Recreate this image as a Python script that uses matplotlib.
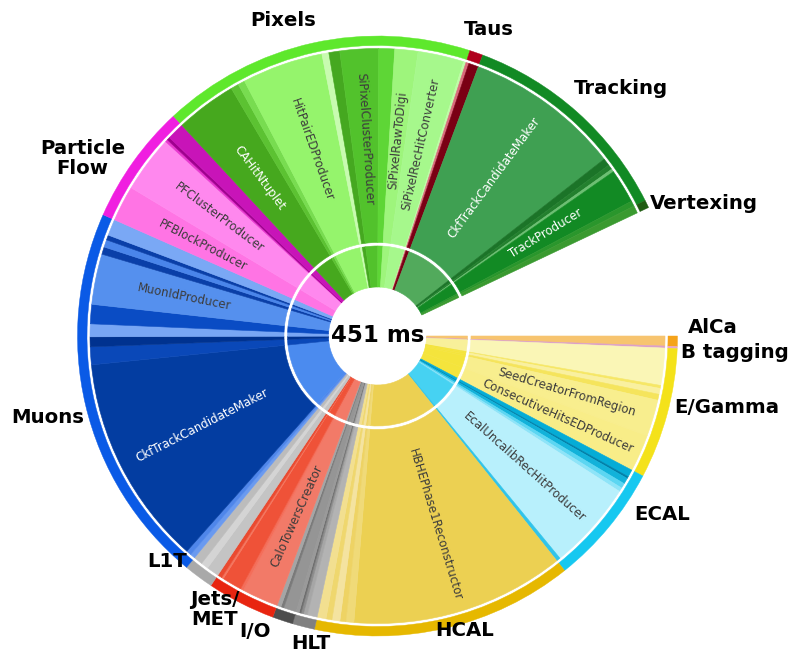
import numpy as np
import matplotlib
matplotlib.use("Agg")
import matplotlib.pyplot as plt

# ---------------- data ----------------
TOTAL_MS = 451
group_names = ["AlCa", "B tagging", "E/Gamma", "ECAL", "HCAL", "HLT", "I/O",
               "Jets/\nMET", "L1T", "Muons", "Particle\nFlow", "Pixels", "Taus",
               "Tracking", "Vertexing"]

# per-group module times (ms), clockwise order
alca_ms = [2.70]
btag_ms = [0.54]
egamma_ms = [10.11, 0.81, 1.62, 1.62, 9.97, 10.11]
ecal_ms = [2.02, 0.54, 1.62, 1.35, 1.08, 24.13, 1.08]
hcal_ms = [58.36, 2.16, 1.62, 2.16, 1.62, 2.43]
hlt_ms = [2.70, 1.08, 0.67, 0.54, 0.81]
io_ms = [3.50, 0.81, 1.08]
jets_ms = [9.97, 0.81, 5.39, 0.54, 1.21]
l1t_ms = [3.37, 2.02, 2.43]
muons_ms = [1.35, 1.35, 57.55, 4.85, 2.70, 3.50, 5.26, 13.75, 2.02, 2.02, 1.35, 4.45]
pf_ms = [9.70, 15.50, 0.67, 0.81, 4.72]
pixels_ms = [16.58, 2.16, 1.89, 22.10, 1.89, 2.97, 10.51, 4.31, 6.33, 12.53, 0.67]
taus_ms = [0.81, 2.70]
tracking_ms = [42.46, 2.02, 1.35, 0.81, 9.30, 1.48]
vertexing_ms = [2.02]

module_ms = [alca_ms, btag_ms, egamma_ms, ecal_ms, hcal_ms, hlt_ms, io_ms, jets_ms,
             l1t_ms, muons_ms, pf_ms, pixels_ms, taus_ms, tracking_ms, vertexing_ms]

module_labels = [
    [""], [""],
    ["", "", "", "", "SeedCreatorFromRegion", "ConsecutiveHitsEDProducer"],
    ["", "", "", "", "", "EcalUncalibRecHitProducer", ""],
    ["HBHEPhase1Reconstructor", "", "", "", "", ""],
    ["", "", "", "", ""],
    ["", "", ""],
    ["CaloTowersCreator", "", "", "", ""],
    ["", "", ""],
    ["", "", "CkfTrackCandidateMaker", "", "", "", "", "MuonIdProducer", "", "", "", ""],
    ["PFBlockProducer", "PFClusterProducer", "", "", ""],
    ["CAHitNtuplet", "", "", "HitPairEDProducer", "", "", "SiPixelClusterProducer", "",
     "SiPixelRawToDigi", "SiPixelRecHitConverter", ""],
    ["", ""],
    ["CkfTrackCandidateMaker", "", "", "", "TrackProducer", ""],
    [""],
]

# ---------------- styles ----------------
FULL_CIRCLE_MS = 485.2          # ms that would fill 360 degrees
ring_colors = ["#f5a31a", "#e7a6c8", "#f4e21a", "#16c8f0", "#e6b800", "#808080",
               "#4d4d4d", "#e82510", "#a9a9a9", "#0a5ae6", "#f01ee0", "#5ee82c",
               "#b0001c", "#128a24", "#1f5c12"]
module_colors = [
    ["#f7c46f"],
    ["#dca0c8"],
    ["#faf6b6", "#f6e766", "#f9f0a0", "#f5e45c", "#f8ee8e", "#f8ed88"],
    ["#05acd6", "#007fa8", "#12b2da", "#5cd6f2", "#8ee4f8", "#b8f0fc", "#30c4ea"],
    ["#ecd052", "#f0da78", "#eed364", "#f4e3a0", "#efd76e", "#f2df90"],
    ["#b3b3b3", "#a6a6a6", "#8c8c8c", "#6e6e6e", "#9a9a9a"],
    ["#959595", "#7a7a7a", "#a5a5a5"],
    ["#f27a68", "#f46e5a", "#ef5238", "#f4755e", "#ea4a30"],
    ["#c4c4c4", "#d4d4d4", "#bcbcbc"],
    ["#6a9af0", "#4f86ea", "#033da1", "#0a48b8", "#00328f", "#78a6f4", "#0a4cc4",
     "#5590ee", "#0a3fa8", "#4a85ea", "#0a3fa8", "#7aa8f5"],
    ["#ff74e4", "#ff88ee", "#e838d0", "#a0008f", "#c814b8"],
    ["#46a81e", "#5cc232", "#78dc50", "#95f46c", "#c8fbb0", "#45a820", "#52c22c",
     "#5ed636", "#9ef57c", "#a6f88c", "#c0fca8"],
    ["#d86a7a", "#7a0014"],
    ["#3fa052", "#1b7428", "#23802e", "#6cbf72", "#128a24", "#2a962c"],
    ["#3a9a30"],
]
inner_override = {(2, 0): "#f8f09a", (2, 1): "#f4e43c", (2, 2): "#f4e43c", (2, 3): "#f4e43c",
                  (2, 4): "#f4e43c", (2, 5): "#f4e43c", (3, 5): "#46d2f2",
                  (9, 2): "#4b8bef", (13, 0): "#52aa5c"}
dark_label_bg = {"CkfTrackCandidateMaker", "TrackProducer", "CAHitNtuplet"}

W, H = 788, 657
CX, CY = 377.5, 336.0
R_AX = 345.0
R_HOLE, R_INNER_OUT = 49.0, 90.0
R_OUT_IN, R_OUT_OUT = 93.5, 287.5
R_RING_IN, R_RING_OUT = 290.5, 300.0
R_LABEL = 197.0

# group label placement (angle clockwise from east in deg, radius in px)
label_pos = [(358.6, 335), (2.7, 358), (11.6, 357), (32.0, 336), (73.6, 307),
             (102.3, 315), (112.5, 320), (120.8, 318), (133.0, 309), (166.2, 340),
             (211.0, 344), (253.3, 329), (290.0, 326), (314.6, 347), (337.9, 352)]

fig = plt.figure(figsize=(W / 100, H / 100), dpi=100)
ax = fig.add_axes([(CX - R_AX) / W, (H - CY - R_AX) / H, 2 * R_AX / W, 2 * R_AX / H],
                  projection="polar")
ax.set_theta_zero_location("E")
ax.set_theta_direction(-1)
ax.set_rlim(0, R_AX)
ax.set_axis_off()

deg_per_ms = 360.0 / FULL_CIRCLE_MS
start = 0.0
for gi, (gname, mlist) in enumerate(zip(group_names, module_ms)):
    g_start = start
    for mi, ms in enumerate(mlist):
        w = ms * deg_per_ms
        mid = start + w / 2
        col = module_colors[gi][mi]
        icol = inner_override.get((gi, mi), col)
        ax.bar(np.radians(mid), R_OUT_OUT - R_OUT_IN, width=np.radians(w), bottom=R_OUT_IN,
               color=col, edgecolor=col, linewidth=0.4, align="center")
        ax.bar(np.radians(mid), R_INNER_OUT - R_HOLE, width=np.radians(w), bottom=R_HOLE,
               color=icol, edgecolor=icol, linewidth=0.4, align="center")
        lab = module_labels[gi][mi]
        if lab:
            if 90 < mid < 270:
                rot = 180 - mid
            else:
                rot = -mid
            tc = "white" if lab in dark_label_bg else "#3c3c3c"
            ax.text(np.radians(mid), R_LABEL, lab, rotation=rot, rotation_mode="anchor",
                    ha="center", va="center", fontsize=8.5, color=tc,
                    family="DejaVu Sans")
        start += w
    g_w = start - g_start
    ax.bar(np.radians(g_start + g_w / 2), R_RING_OUT - R_RING_IN, width=np.radians(g_w),
           bottom=R_RING_IN, color=ring_colors[gi], edgecolor=ring_colors[gi],
           linewidth=0.3, align="center")
    la, lr = label_pos[gi]
    ax.text(np.radians(la), lr, gname, ha="center", va="center", fontsize=14.2,
            fontweight="bold", color="black", linespacing=1.05, family="DejaVu Sans")

ax.text(0, 0, f"{TOTAL_MS} ms", ha="center", va="center", fontsize=16.5,
        fontweight="bold", color="black", family="DejaVu Sans")

fig.savefig("out.png", dpi=100, facecolor="white")
